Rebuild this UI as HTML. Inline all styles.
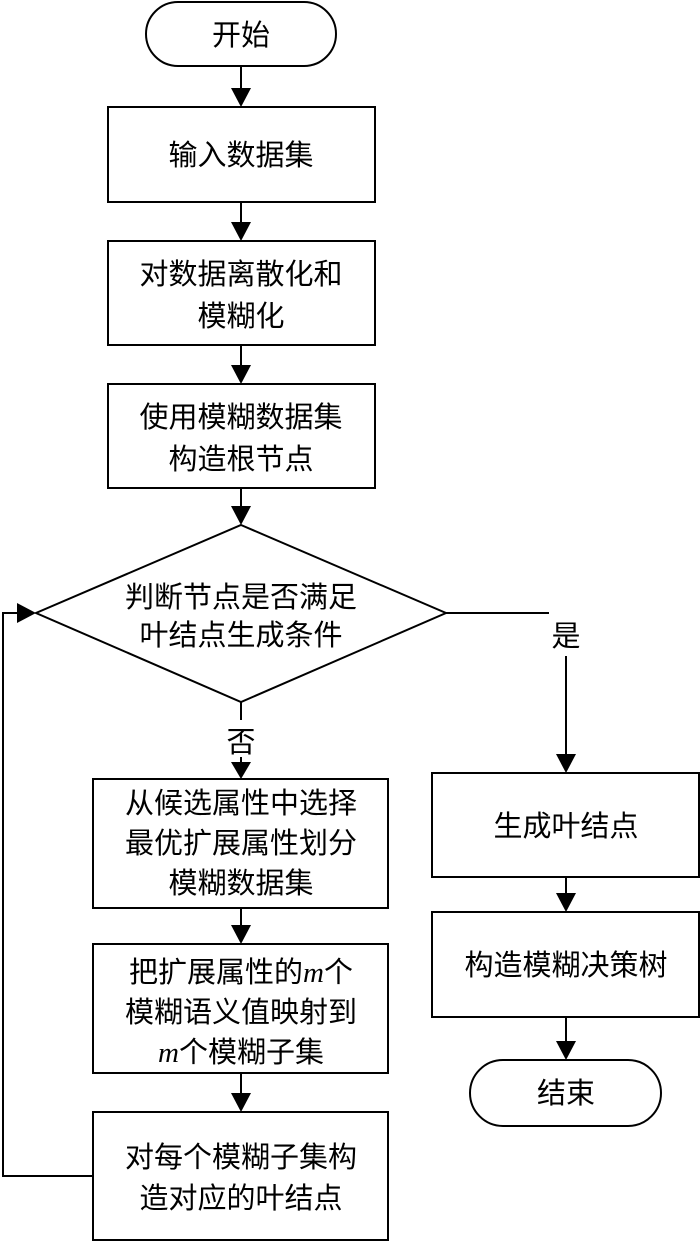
<!DOCTYPE html>
<html><head><meta charset="utf-8"><style>
html,body{margin:0;padding:0;background:#fff;}
svg{display:block;}
text{font-family:"Liberation Sans","Noto Sans CJK SC",sans-serif;font-size:29px;fill:#000;text-anchor:middle;}
.m{font-family:"Liberation Serif",serif;font-style:italic;}
</style></head><body>
<svg width="700" height="1242" viewBox="0 0 700 1242" xmlns="http://www.w3.org/2000/svg">
<defs><marker id="a" markerWidth="10" markerHeight="12" refX="9" refY="6" orient="auto" markerUnits="userSpaceOnUse"><path d="M0,0 L0,0"/></marker></defs>
<g fill="none" stroke="#000" stroke-width="2">
<rect x="146" y="2" width="190" height="64" rx="32"/>
<rect x="108" y="107" width="267" height="95"/>
<rect x="108" y="241" width="267" height="104"/>
<rect x="108" y="384" width="267" height="104"/>
<polygon points="241,525 446,613 241,702 36,613"/>
<rect x="93" y="779" width="295" height="129"/>
<rect x="93" y="944" width="295" height="129"/>
<rect x="93" y="1112" width="295" height="128"/>
<rect x="432" y="773" width="267" height="104"/>
<rect x="432" y="912" width="267" height="105"/>
<rect x="470" y="1060" width="191" height="66" rx="33"/>
<path d="M241,67V90 M241,202V224 M241,345V367 M241,488V508 M241,702V720 M241,908V926 M241,1073V1095 M446,613H549 M566,656V755 M566,877V895 M566,1017V1043 M93,1176H3V613H20"/>
<path d="M241,757V762"/>
</g>
<g fill="#000">
<path d="M231,88 L251,88 L241,107Z"/>
<path d="M231,222 L251,222 L241,241Z"/>
<path d="M231,365 L251,365 L241,384Z"/>
<path d="M231,506 L251,506 L241,525Z"/>
<path d="M231,762 L251,762 L241,779Z"/>
<path d="M231,925 L251,925 L241,944Z"/>
<path d="M231,1093 L251,1093 L241,1112Z"/>
<path d="M556,754 L576,754 L566,773Z"/>
<path d="M556,893 L576,893 L566,912Z"/>
<path d="M556,1041 L576,1041 L566,1060Z"/>
<path d="M17,603 L17,623 L36,613Z"/>
</g>
<text x="241" y="45">开始</text>
<text x="241" y="165">输入数据集</text>
<text x="241" y="284">对数据离散化和</text>
<text x="241" y="326">模糊化</text>
<text x="241" y="427">使用模糊数据集</text>
<text x="241" y="469">构造根节点</text>
<text x="241" y="607">判断节点是否满足</text>
<text x="241" y="645">叶结点生成条件</text>
<text x="241" y="752">否</text>
<text x="566" y="646">是</text>
<text x="241" y="813">从候选属性中选择</text>
<text x="241" y="853">最优扩展属性划分</text>
<text x="241" y="893">模糊数据集</text>
<text x="241" y="982">把扩展属性的<tspan class="m">m</tspan>个</text>
<text x="241" y="1022">模糊语义值映射到</text>
<text x="241" y="1062"><tspan class="m">m</tspan>个模糊子集</text>
<text x="241" y="1167">对每个模糊子集构</text>
<text x="241" y="1208">造对应的叶结点</text>
<text x="566" y="836">生成叶结点</text>
<text x="566" y="975">构造模糊决策树</text>
<text x="566" y="1103">结束</text>
</svg>
</body></html>
